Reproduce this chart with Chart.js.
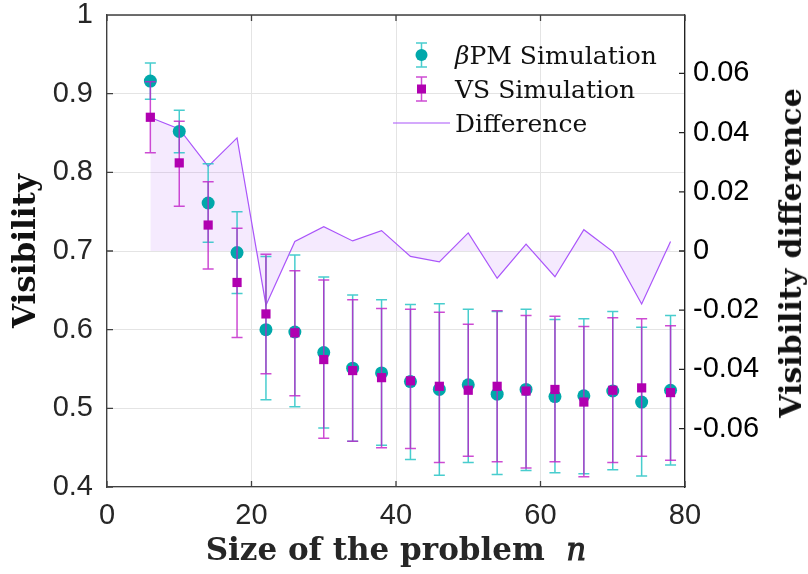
<!DOCTYPE html>
<html>
<head>
<meta charset="utf-8">
<script src="https://cdn.jsdelivr.net/npm/chart.js@4.4.1/dist/chart.umd.min.js"></script>
<style>
  body { margin: 0; background: #fff; }
  #wrap { position: relative; width: 808px; height: 574px; }
  #legend {
    position: absolute; left: 390px; top: 38px;
    font-family: 'DejaVu Serif', serif; font-size: 25px; color: #111;
  }
  #legend .row { display: flex; align-items: center; height: 34px; }
  #legend canvas { margin-right: 3px; }
  #y1-title {
    position: absolute; left: 791px; top: 253px;
    transform: translate(-50%, -50%) rotate(-90deg);
    font-family: 'DejaVu Serif', serif; font-weight: bold; font-size: 30px;
    color: #111; white-space: nowrap; line-height: 1;
  }
</style>
</head>
<body>
<div id="wrap">
  <canvas id="visibility-chart" width="808" height="574"></canvas>
  <div id="legend">
    <div class="row"><canvas id="icon-bpm" width="62" height="34"></canvas><span><i>β</i>PM Simulation</span></div>
    <div class="row"><canvas id="icon-vs" width="62" height="34"></canvas><span>VS Simulation</span></div>
    <div class="row"><canvas id="icon-diff" width="62" height="34"></canvas><span>Difference</span></div>
  </div>
  <div id="y1-title">Visibility difference</div>
</div>
<script>
// Problem sizes n
const sizes = [6, 10, 14, 18, 22, 26, 30, 34, 38, 42, 46, 50, 54, 58, 62, 66, 70, 74, 78];

// beta-PM simulation: mean visibility and error bar ends
const bpmMean = [0.916, 0.852, 0.761, 0.698, 0.600, 0.597, 0.571, 0.551, 0.545, 0.534, 0.524, 0.530, 0.518, 0.524, 0.515, 0.516, 0.522, 0.508, 0.523];
const bpmLow  = [0.893, 0.825, 0.711, 0.646, 0.511, 0.502, 0.475, 0.458, 0.453, 0.435, 0.415, 0.431, 0.416, 0.421, 0.418, 0.417, 0.422, 0.414, 0.428];
const bpmHigh = [0.939, 0.879, 0.811, 0.750, 0.693, 0.695, 0.667, 0.644, 0.638, 0.632, 0.633, 0.626, 0.623, 0.626, 0.613, 0.614, 0.623, 0.603, 0.618];

// VS simulation
const vsMean = [0.870, 0.812, 0.733, 0.660, 0.620, 0.596, 0.562, 0.548, 0.539, 0.535, 0.528, 0.523, 0.528, 0.522, 0.524, 0.508, 0.523, 0.526, 0.520];
const vsLow  = [0.825, 0.757, 0.677, 0.590, 0.544, 0.516, 0.462, 0.458, 0.450, 0.449, 0.431, 0.439, 0.432, 0.424, 0.432, 0.413, 0.431, 0.439, 0.434];
const vsHigh = [0.915, 0.865, 0.788, 0.729, 0.696, 0.675, 0.663, 0.638, 0.627, 0.626, 0.622, 0.607, 0.624, 0.618, 0.617, 0.604, 0.615, 0.614, 0.605];

// Visibility difference (right axis)
const diffValues = [0.0451, 0.0412, 0.0286, 0.0382, -0.0183, 0.0032, 0.0082, 0.0034, 0.0069, -0.0018, -0.0037, 0.0061, -0.0092, 0.0023, -0.0087, 0.0072, -0.0002, -0.0179, 0.0032];

// Tick labels
const xTicks = [0, 20, 40, 60, 80];
const yTicks = [0.4, 0.5, 0.6, 0.7, 0.8, 0.9, 1];
const y1Ticks = [-0.06, -0.04, -0.02, 0, 0.02, 0.04, 0.06];

const CYAN = 'rgb(0,168,170)';
const CYAN_BAR = 'rgba(40,196,198,0.85)';
const MAGENTA = 'rgb(176,0,176)';
const MAGENTA_BAR = 'rgba(192,30,200,0.8)';
const VIOLET = 'rgb(170,85,250)';

const tickFont = { family: "'Liberation Sans', Arial, sans-serif", size: 29, lineHeight: 1 };
const titleFont = { family: "'DejaVu Serif', serif", size: 31, weight: 'bold', lineHeight: 1.2 };

function toPoints(values) {
    return sizes.map((n, i) => ({ x: n, y: values[i] }));
}

// keep the plot box fixed: no extra room for overhanging tick labels
function noPad(s) {
    s.paddingTop = 0;
    s.paddingBottom = 0;
    s.paddingLeft = 0;
    s.paddingRight = 0;
}

// Draw error bars under each dataset that has errLow/errHigh
const errorBars = {
    id: 'errorBars',
    beforeDatasetDraw(chart, args) {
        const ds = chart.data.datasets[args.index];
        if (!ds.errLow) return;
        const xs = chart.scales.x;
        const ys = chart.scales.y;
        const ctx = chart.ctx;
        ctx.save();
        ctx.strokeStyle = ds.errColor;
        ctx.lineWidth = 1.5;
        ds.data.forEach((p, i) => {
            const px = xs.getPixelForValue(p.x);
            const lo = ys.getPixelForValue(ds.errLow[i]);
            const hi = ys.getPixelForValue(ds.errHigh[i]);
            ctx.beginPath();
            ctx.moveTo(px, lo);
            ctx.lineTo(px, hi);
            ctx.moveTo(px - 5.5, lo);
            ctx.lineTo(px + 5.5, lo);
            ctx.moveTo(px - 5.5, hi);
            ctx.lineTo(px + 5.5, hi);
            ctx.stroke();
        });
        ctx.restore();
    }
};

// MATLAB-like box with inward tick marks
const boxTicks = {
    id: 'boxTicks',
    afterDraw(chart) {
        const { left, right, top, bottom } = chart.chartArea;
        const ctx = chart.ctx;
        const len = 6;
        ctx.save();
        ctx.lineWidth = 1.3;
        ctx.strokeStyle = '#404040';
        ctx.beginPath();
        ctx.moveTo(left, top);
        ctx.lineTo(right, top);
        chart.scales.x.ticks.forEach(t => {
            const px = chart.scales.x.getPixelForValue(t.value);
            ctx.moveTo(px, bottom);
            ctx.lineTo(px, bottom - len);
            ctx.moveTo(px, top);
            ctx.lineTo(px, top + len);
        });
        chart.scales.y.ticks.forEach(t => {
            const py = chart.scales.y.getPixelForValue(t.value);
            ctx.moveTo(left, py);
            ctx.lineTo(left + len, py);
        });
        ctx.stroke();
        ctx.strokeStyle = '#222';
        ctx.beginPath();
        chart.scales.y1.ticks.forEach(t => {
            const py = chart.scales.y1.getPixelForValue(t.value);
            ctx.moveTo(right, py);
            ctx.lineTo(right - len, py);
        });
        ctx.stroke();
        ctx.restore();
    }
};

const chart = new Chart(document.getElementById('visibility-chart'), {
    type: 'line',
    data: {
        datasets: [
            {
                label: 'VS Simulation',
                data: toPoints(vsMean),
                errLow: vsLow,
                errHigh: vsHigh,
                errColor: MAGENTA_BAR,
                showLine: false,
                pointStyle: 'rect',
                pointRadius: 6.5,
                pointBackgroundColor: MAGENTA,
                pointBorderWidth: 0,
                yAxisID: 'y',
                order: 0,
            },
            {
                label: 'βPM Simulation',
                data: toPoints(bpmMean),
                errLow: bpmLow,
                errHigh: bpmHigh,
                errColor: CYAN_BAR,
                showLine: false,
                pointStyle: 'circle',
                pointRadius: 6.5,
                pointBackgroundColor: CYAN,
                pointBorderWidth: 0,
                yAxisID: 'y',
                order: 1,
            },
            {
                label: 'Difference',
                data: toPoints(diffValues),
                borderColor: VIOLET,
                borderWidth: 1.2,
                backgroundColor: 'rgba(170,85,250,0.12)',
                fill: 'origin',
                pointRadius: 0,
                tension: 0,
                yAxisID: 'y1',
                order: 2,
            },
        ],
    },
    options: {
        responsive: false,
        animation: false,
        devicePixelRatio: 1,
        layout: { padding: { top: 15, left: 0, right: 0, bottom: 0 } },
        plugins: {
            legend: { display: false },
            tooltip: { enabled: false },
        },
        scales: {
            x: {
                type: 'linear',
                min: 0,
                max: 80,
                afterBuildTicks: s => { s.ticks = xTicks.map(v => ({ value: v })); },
                afterFit: s => { s.height = 87; noPad(s); },
                ticks: { font: tickFont, color: '#262626', padding: 14, maxRotation: 0 },
                grid: { color: '#e4e4e4', lineWidth: 1, drawTicks: false },
                border: { color: '#404040', width: 1.3 },
                title: {
                    display: true,
                    text: 'Size of the problem  𝑛',
                    font: titleFont,
                    color: '#262626',
                    padding: { top: 0, bottom: 3 },
                },
            },
            y: {
                position: 'left',
                min: 0.4,
                max: 1,
                afterBuildTicks: s => { s.ticks = yTicks.map(v => ({ value: v })); },
                afterFit: s => { s.width = 107; noPad(s); },
                ticks: { font: tickFont, color: '#262626', padding: 14, callback: v => String(+v.toFixed(1)) },
                grid: { color: '#e4e4e4', lineWidth: 1, drawTicks: false },
                border: { color: '#404040', width: 1.3 },
                title: {
                    display: true,
                    text: 'Visibility',
                    font: titleFont,
                    color: '#111',
                    padding: { top: 8, bottom: 0 },
                },
            },
            y1: {
                position: 'right',
                min: -0.0797,
                max: 0.0797,
                afterBuildTicks: s => { s.ticks = y1Ticks.map(v => ({ value: v })); },
                afterFit: s => { s.width = 123; noPad(s); },
                ticks: { font: tickFont, color: '#000', padding: 8, callback: v => String(+v.toFixed(2)) },
                grid: { drawOnChartArea: false, drawTicks: false },
                border: { color: '#222', width: 1.3 },
                title: { display: false },
            },
        },
    },
    plugins: [errorBars, boxTicks],
});

// Legend icons
function drawErrIcon(id, color, barColor, shape) {
    const ctx = document.getElementById(id).getContext('2d');
    const cx = 31.5, cy = 17;
    ctx.strokeStyle = barColor;
    ctx.lineWidth = 1.5;
    ctx.beginPath();
    ctx.moveTo(cx, cy - 12); ctx.lineTo(cx, cy + 12);
    ctx.moveTo(cx - 5.5, cy - 12); ctx.lineTo(cx + 5.5, cy - 12);
    ctx.moveTo(cx - 5.5, cy + 12); ctx.lineTo(cx + 5.5, cy + 12);
    ctx.stroke();
    ctx.fillStyle = color;
    if (shape === 'circle') {
        ctx.beginPath();
        ctx.arc(cx, cy, 6, 0, Math.PI * 2);
        ctx.fill();
    } else {
        ctx.fillRect(cx - 4.5, cy - 4.5, 9, 9);
    }
}
drawErrIcon('icon-bpm', CYAN, CYAN_BAR, 'circle');
drawErrIcon('icon-vs', MAGENTA, MAGENTA_BAR, 'rect');
(function () {
    const ctx = document.getElementById('icon-diff').getContext('2d');
    ctx.strokeStyle = VIOLET;
    ctx.lineWidth = 1.2;
    ctx.beginPath();
    ctx.moveTo(3, 17);
    ctx.lineTo(60, 17);
    ctx.stroke();
})();
</script>
</body>
</html>
